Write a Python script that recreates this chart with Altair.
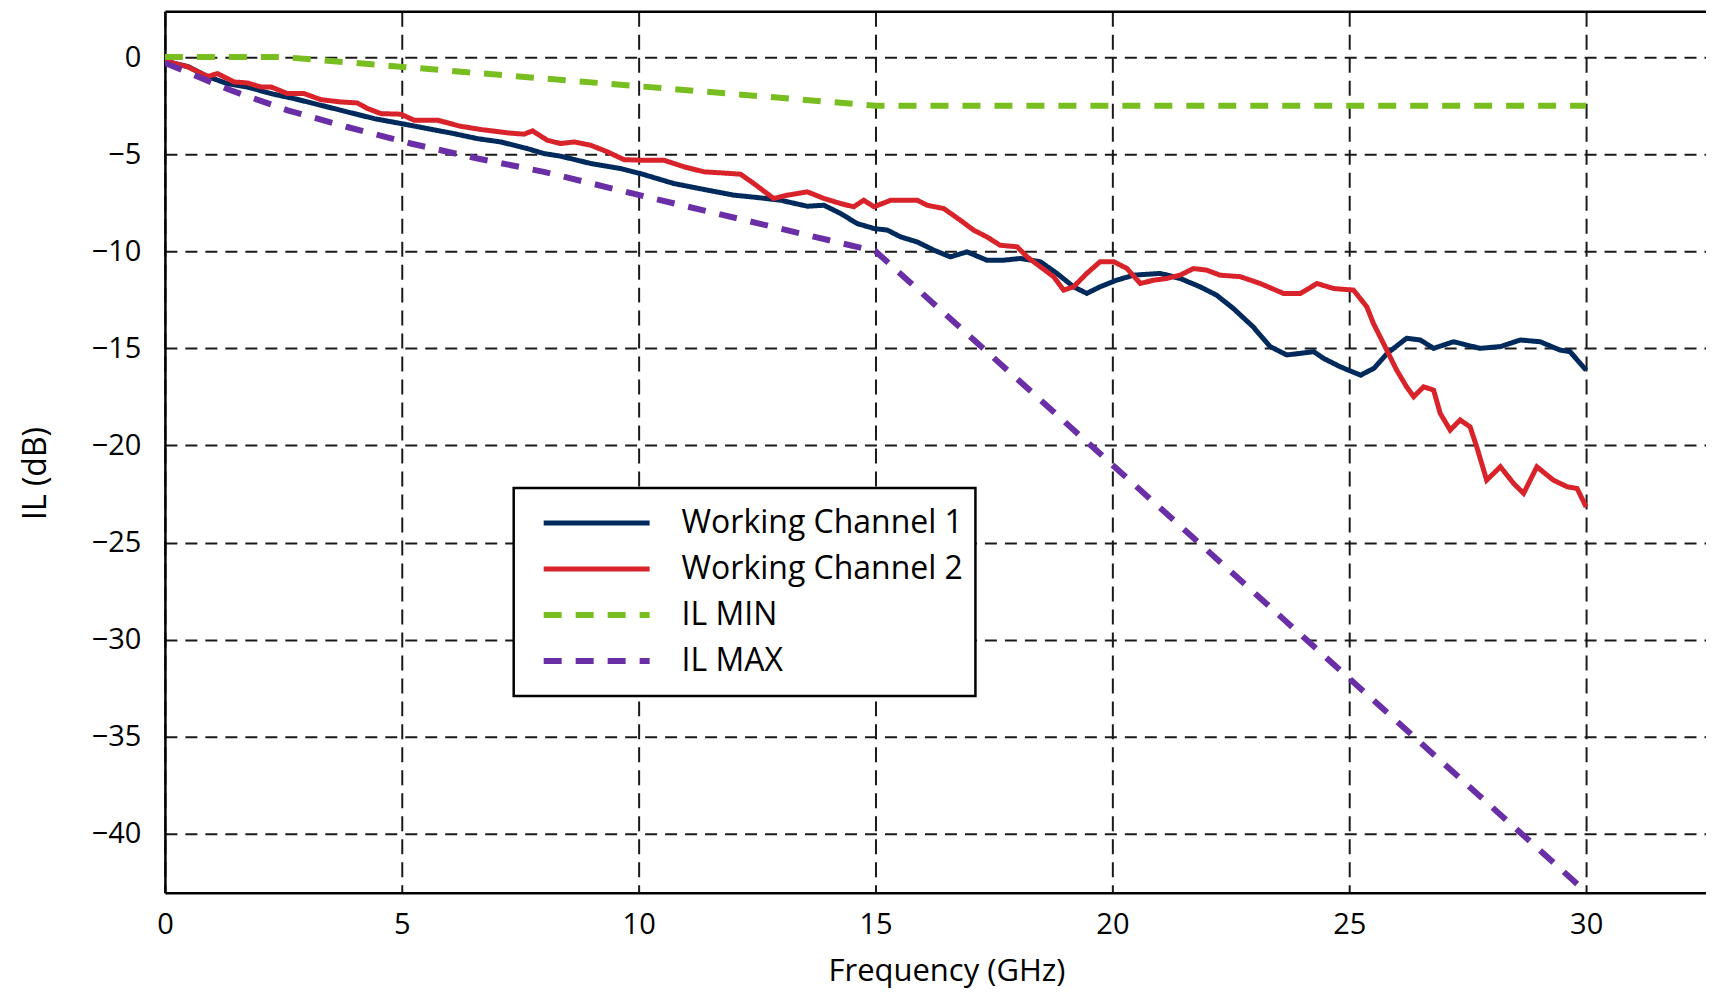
import altair as alt
import pandas as pd

# ---------------- data ----------------
SERIES = ["Working Channel 1", "Working Channel 2", "IL MIN", "IL MAX"]
COLORS = ["#002a5c", "#d8232a", "#78be20", "#6a2ea6"]

CH1_FREQ = [0, 0.5, 0.9, 1.32, 1.74, 2.24, 2.73, 3.29, 3.85, 4.42,
            4.98, 5.54, 6.1, 6.6, 7.09, 7.65, 8.0, 8.35, 8.99, 9.62,
            10.04, 10.74, 11.45, 12.01, 12.5, 12.99, 13.56, 13.91, 14.26, 14.61,
            14.97, 15.25, 15.53, 15.88, 16.23, 16.58, 16.93, 17.35, 17.7, 18.06,
            18.48, 18.83, 19.18, 19.46, 19.74, 20.09, 20.45, 21.01, 21.43, 21.85,
            22.2, 22.55, 22.97, 23.33, 23.68, 23.96, 24.25, 24.46, 24.81, 25.24,
            25.52, 25.8, 26.21, 26.5, 26.78, 27.2, 27.76, 28.19, 28.61, 29.03,
            29.45, 29.66, 30.0]
CH1_IL = [-0.2, -0.5, -1.0, -1.37, -1.54, -1.88, -2.14, -2.48, -2.82, -3.17,
          -3.42, -3.68, -3.94, -4.2, -4.37, -4.71, -4.97, -5.1, -5.48, -5.74,
          -6.0, -6.51, -6.85, -7.11, -7.23, -7.37, -7.68, -7.63, -8.05, -8.57,
          -8.83, -8.91, -9.26, -9.52, -9.94, -10.29, -10.03, -10.46, -10.46, -10.37,
          -10.54, -11.14, -11.83, -12.17, -11.83, -11.49, -11.23, -11.14, -11.4, -11.83,
          -12.26, -12.94, -13.89, -14.91, -15.34, -15.26, -15.17, -15.52, -15.95, -16.38,
          -16.03, -15.26, -14.48, -14.57, -15.0, -14.66, -15.0, -14.91, -14.57, -14.66,
          -15.09, -15.17, -16.12]

CH2_FREQ = [0, 0.48, 0.9, 1.11, 1.46, 1.74, 2.03, 2.24, 2.59, 2.94,
            3.29, 3.71, 4.06, 4.28, 4.56, 4.98, 5.26, 5.75, 6.24, 6.67,
            7.23, 7.58, 7.76, 8.07, 8.35, 8.64, 8.99, 9.34, 9.69, 10.04,
            10.53, 10.96, 11.38, 11.73, 12.15, 12.43, 12.85, 13.14, 13.56, 13.91,
            14.26, 14.54, 14.75, 14.97, 15.32, 15.88, 16.09, 16.44, 16.79, 17.07,
            17.35, 17.63, 17.99, 18.2, 18.48, 18.76, 18.97, 19.18, 19.46, 19.74,
            20.03, 20.31, 20.59, 20.87, 21.15, 21.43, 21.71, 21.99, 22.27, 22.7,
            23.12, 23.61, 23.97, 24.32, 24.67, 25.09, 25.37, 25.51, 25.72, 26.0,
            26.21, 26.36, 26.57, 26.78, 26.92, 27.13, 27.34, 27.55, 27.69, 27.9,
            28.19, 28.47, 28.68, 28.96, 29.31, 29.6, 29.81, 30.0]
CH2_IL = [-0.2, -0.5, -1.0, -0.85, -1.28, -1.33, -1.54, -1.54, -1.88, -1.88,
          -2.19, -2.31, -2.36, -2.65, -2.91, -2.94, -3.25, -3.25, -3.56, -3.73,
          -3.9, -3.97, -3.8, -4.28, -4.45, -4.37, -4.54, -4.88, -5.28, -5.31,
          -5.31, -5.65, -5.91, -5.96, -6.03, -6.51, -7.28, -7.11, -6.94, -7.28,
          -7.54, -7.71, -7.37, -7.71, -7.37, -7.37, -7.63, -7.8, -8.4, -8.91,
          -9.26, -9.69, -9.77, -10.29, -10.8, -11.31, -12.0, -11.83, -11.14, -10.54,
          -10.54, -10.89, -11.66, -11.49, -11.4, -11.23, -10.89, -10.97, -11.23, -11.31,
          -11.66, -12.17, -12.17, -11.66, -11.92, -12.0, -12.86, -13.72, -14.74, -16.12,
          -16.98, -17.49, -16.98, -17.15, -18.35, -19.21, -18.69, -19.04, -20.07, -21.79,
          -21.1, -21.96, -22.47, -21.1, -21.79, -22.13, -22.22, -23.17]

MIN_FREQ = [0, 2.5, 15, 30]
MIN_IL = [0, 0, -2.5, -2.5]

MAX_FREQ = [0, 1.39, 2.59, 3.85, 5.19, 6.6, 8.0, 10.0, 15.0, 30.0]
MAX_IL = [-0.3, -1.71, -2.74, -3.6, -4.45, -5.22, -5.91, -7.1, -10.0, -43.0]

X_TICKS = [0, 5, 10, 15, 20, 25, 30]
Y_TICKS = [-40, -35, -30, -25, -20, -15, -10, -5, 0]
X_DOMAIN = [0, 32.53]
Y_DOMAIN = [-43.04, 2.36]

# ---------------- build table ----------------
rows = []
for name, fs, vs in zip(SERIES, [CH1_FREQ, CH2_FREQ, MIN_FREQ, MAX_FREQ],
                        [CH1_IL, CH2_IL, MIN_IL, MAX_IL]):
    for f, v in zip(fs, vs):
        rows.append({"series": name, "freq": f, "il": v})
df = pd.DataFrame(rows)

FONT = "Open Sans"
DASH = [18, 14]

legend = alt.Legend(
    orient="none", legendX=349, legendY=477, title=None,
    symbolType="stroke", symbolSize=11236, clipHeight=46, rowPadding=0,
    padding=12, symbolOffset=15, labelOffset=29, labelLimit=500,
    labelFont=FONT, labelFontSize=32, labelColor="black",
    fillColor="white", strokeColor="black",
)

xscale = alt.Scale(domain=X_DOMAIN, nice=False, zero=False)

lines = alt.Chart(df).mark_line(clip=True).encode(
    x=alt.X("freq:Q", scale=xscale,
            axis=alt.Axis(values=X_TICKS, title="Frequency (GHz)", labelPadding=18,
                          labelFlush=False, titlePadding=17, titleX=782, gridDash=[15, 8])),
    y=alt.Y("il:Q", scale=alt.Scale(domain=Y_DOMAIN, nice=False, zero=False),
            axis=alt.Axis(values=Y_TICKS, title="IL (dB)", labelPadding=24,
                          labelFlush=False, titleX=-112, titleY=462, titleFontSize=32,
                          gridDash=[12, 8])),
    color=alt.Color("series:N", scale=alt.Scale(domain=SERIES, range=COLORS), legend=legend),
    strokeDash=alt.StrokeDash("series:N", scale=alt.Scale(domain=SERIES,
                              range=[[1, 0], [1, 0], DASH, DASH]), legend=legend),
    strokeWidth=alt.StrokeWidth("series:N", scale=alt.Scale(type="ordinal", domain=SERIES,
                                range=[5, 5, 6, 6]), legend=legend),
)

top_border = alt.Chart(pd.DataFrame({"freq": [0.0]})).mark_point(opacity=0).encode(
    x=alt.X("freq:Q", scale=xscale,
            axis=alt.Axis(orient="top", labels=False, ticks=False, grid=False,
                          title=None, domain=True)),
)

chart = alt.layer(lines, top_border).resolve_axis(x="independent").properties(
    width=1542, height=882,
    padding={"left": 12, "top": 3, "right": 0, "bottom": 5},
).configure_view(stroke=None).configure_axis(
    gridColor="#1a1a1a", gridWidth=2, gridOpacity=1,
    domainColor="black", domainWidth=2.5, ticks=False,
    labelFont=FONT, labelFontSize=29, labelColor="black",
    titleFont=FONT, titleFontSize=31, titleFontWeight="normal", titleColor="black",
).configure_legend(strokeWidth=2.5)

chart.save("out.html", embed_options={"renderer": "svg", "actions": False})
